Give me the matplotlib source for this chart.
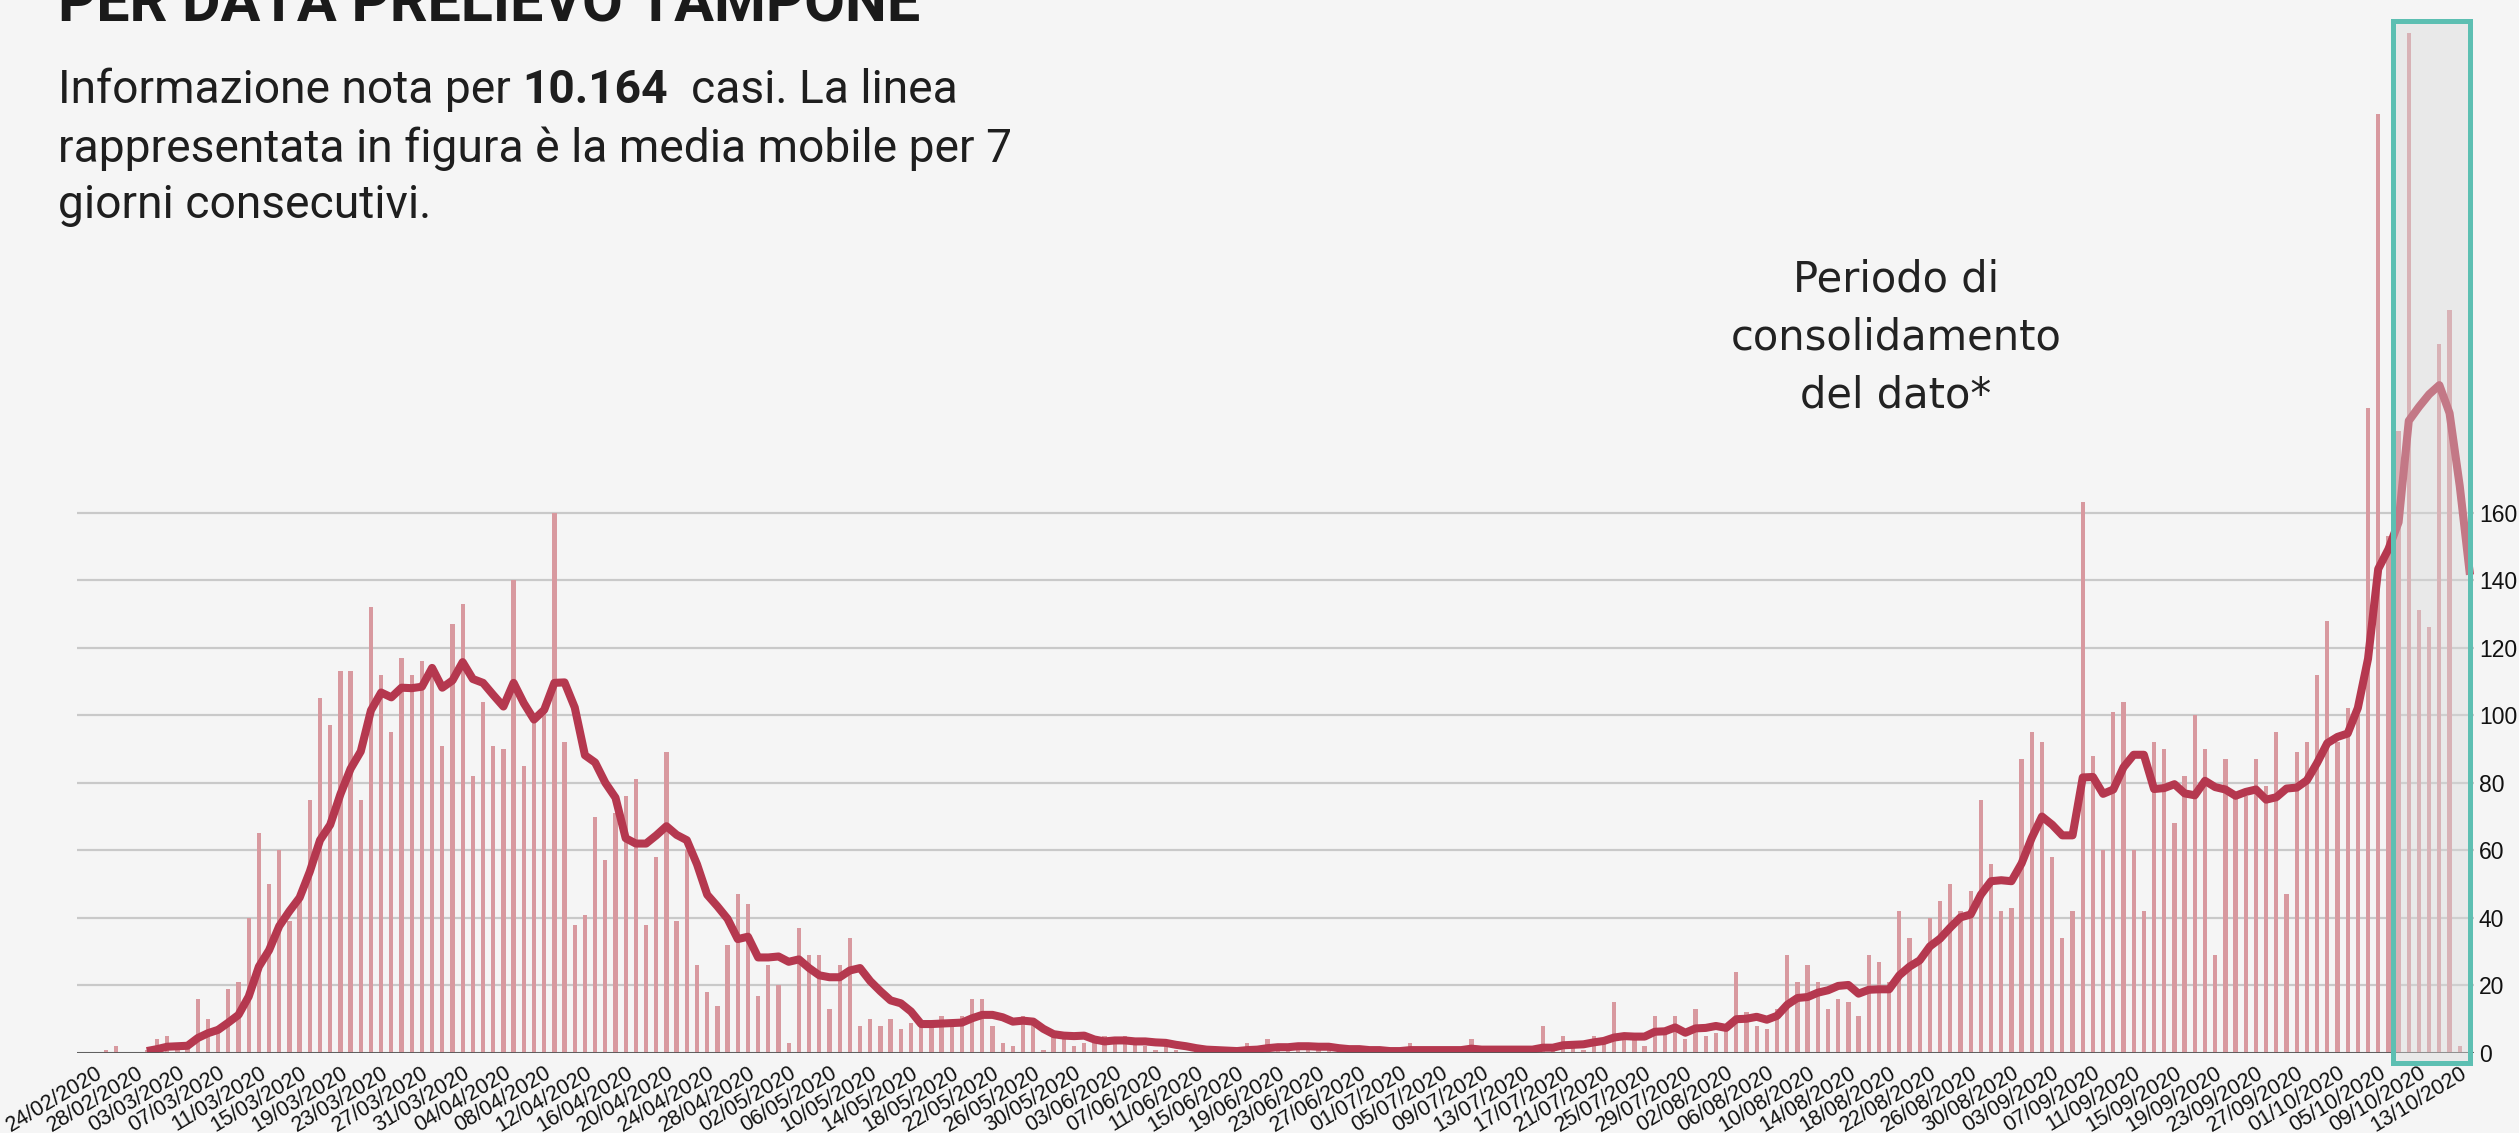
import numpy as np
import pandas as pd
import matplotlib
matplotlib.use("Agg")
import matplotlib.pyplot as plt
from matplotlib.patches import Rectangle
from matplotlib import font_manager as fm

# casi giornalieri per data prelievo tampone (23/02/2020 - 14/10/2020)
casi_feb = [0, 0, 1, 2, 0, 0, 1]
casi_mar = [4, 5, 2, 3, 16, 10, 8, 19, 21, 40, 65, 50, 60, 39, 47, 75, 105, 97, 113, 113,
            75, 132, 112, 95, 117, 112, 116, 114, 91, 127, 133]
casi_apr = [82, 104, 91, 90, 140, 85, 99, 102, 160, 92, 38, 41, 70, 57, 71, 76, 81, 38, 58, 89,
            39, 60, 26, 18, 14, 32, 47, 44, 17, 26]
casi_mag = [20, 3, 37, 29, 29, 13, 26, 34, 8, 10, 8, 10, 7, 9, 8, 8, 11, 9, 11, 16,
            16, 8, 3, 2, 11, 9, 1, 5, 5, 2, 3]
casi_giu = [3, 5, 3, 5, 3, 2, 1, 2, 1, 0, 1, 0, 1, 0, 1, 3, 1, 4, 2, 1,
            2, 1, 2, 1, 1, 0, 1, 0, 1, 0]
casi_lug = [1, 3, 0, 1, 0, 1, 0, 4, 1, 0, 1, 0, 1, 0, 8, 1, 5, 2, 1, 5,
            3, 15, 4, 4, 2, 11, 6, 11, 4, 13, 5]
casi_ago = [6, 7, 24, 12, 8, 7, 13, 29, 21, 26, 21, 13, 16, 15, 11, 29, 27, 21, 42, 34,
            28, 40, 45, 50, 42, 48, 75, 56, 42, 43, 87]
casi_set = [95, 92, 58, 34, 42, 163, 88, 60, 101, 104, 60, 42, 92, 90, 68, 82, 100, 90, 29, 87,
            77, 76, 87, 79, 95, 47, 89, 92, 112, 128]
casi_ott = [92, 102, 100, 191, 278, 153, 184, 302, 131, 126, 210, 220, 2, 0]

casi = casi_feb + casi_mar + casi_apr + casi_mag + casi_giu + casi_lug + casi_ago + casi_set + casi_ott
giorni = pd.date_range("2020-02-23", periods=len(casi), freq="D")
etichette = [d.strftime("%d/%m/%Y") for d in giorni]
media_mobile = pd.Series(casi, dtype=float).rolling(7).mean()

y_ticks = list(range(0, 161, 20))
inizio_consolidamento = 226.45
fine_consolidamento = 234.0

BG = "#f5f5f5"
W, H = 2519, 1133
nomi = {f.name for f in fm.fontManager.ttflist}
stretto = "Liberation Sans Narrow" if "Liberation Sans Narrow" in nomi else "Roboto"
arial = "Liberation Sans"

fig = plt.figure(figsize=(W / 100, H / 100), dpi=100, facecolor=BG)
YMAX = 310
ax = fig.add_axes([77 / W, 80 / H, 2397 / W, YMAX * 3.378 / H])
ax.set_facecolor(BG)

x = np.arange(len(casi))
ax.bar(x, casi, width=0.42, color="#d8999f", zorder=2)
ax.plot(x, media_mobile, color="#b5384f", lw=5.8, zorder=3, solid_capstyle="butt")

ax.set_xlim(-0.85, 234.4)
ax.set_ylim(0, YMAX)
ax.set_axisbelow(True)
ax.grid(axis="y", color="#c9c9c9", lw=1.6)
ax.axhline(0, color="#555555", lw=2, zorder=4)
for s in ax.spines.values():
    s.set_visible(False)

ax.yaxis.tick_right()
ax.set_yticks(y_ticks)
ax.tick_params(axis="y", length=0, pad=3.5, labelsize=16.5, labelcolor="#111111")
for t in ax.get_yticklabels():
    t.set_family(arial)

ax.set_xticks(x[1::4])
ax.set_xticklabels(etichette[1::4], rotation=31, ha="right", rotation_mode="anchor",
                   family=arial, fontsize=15.5, color="#111111")
ax.tick_params(axis="x", length=0, pad=7)

# periodo di consolidamento del dato
ax.add_patch(Rectangle((inizio_consolidamento, -3), fine_consolidamento - inizio_consolidamento, 308.5,
                       facecolor="#d9d9d9", alpha=0.4, edgecolor="none", zorder=5, clip_on=False))
ax.add_patch(Rectangle((inizio_consolidamento, -3), fine_consolidamento - inizio_consolidamento, 308.5,
                       facecolor="none", edgecolor="#5dbfb2", lw=3.6, zorder=6, clip_on=False))

r = fig.canvas.get_renderer()


def adatta(t, larghezza):
    w = t.get_window_extent(r).width
    t.set_fontsize(t.get_fontsize() * larghezza / w)


def testo(xp, yp, s, **kw):
    return fig.text(xp / W, 1 - yp / H, s, va="baseline", **kw)


titolo = testo(58, 22, "PER DATA PRELIEVO TAMPONE", family=[stretto, "DejaVu Sans"],
               fontweight="bold", fontsize=40, color="#1a1a1a")
adatta(titolo, 863)

fam = [stretto, "DejaVu Sans"]
riga2 = testo(58, 162, "rappresentata in figura è la media mobile per 7", family=fam,
              fontsize=30, color="#1e1e1e")
adatta(riga2, 952)
fs = riga2.get_fontsize()
testo(58, 218, "giorni consecutivi.", family=fam, fontsize=fs, color="#1e1e1e")
xp = 58
for s, peso in [("Informazione nota per ", "normal"), ("10.164", "bold"), ("  casi. La linea", "normal")]:
    t = testo(xp, 103, s, family=fam, fontweight=peso, fontsize=fs, color="#1e1e1e")
    xp += t.get_window_extent(r).width

nota = []
for s, yp in [("Periodo di", 292), ("consolidamento", 350), ("del dato*", 407)]:
    nota.append(testo(1896, yp, s, ha="center", family="DejaVu Sans", fontsize=30, color="#222222"))
w0 = nota[1].get_window_extent(r).width
for t in nota:
    t.set_fontsize(30 * 331 / w0)

fig.savefig("out.png", dpi=100, facecolor=BG)
